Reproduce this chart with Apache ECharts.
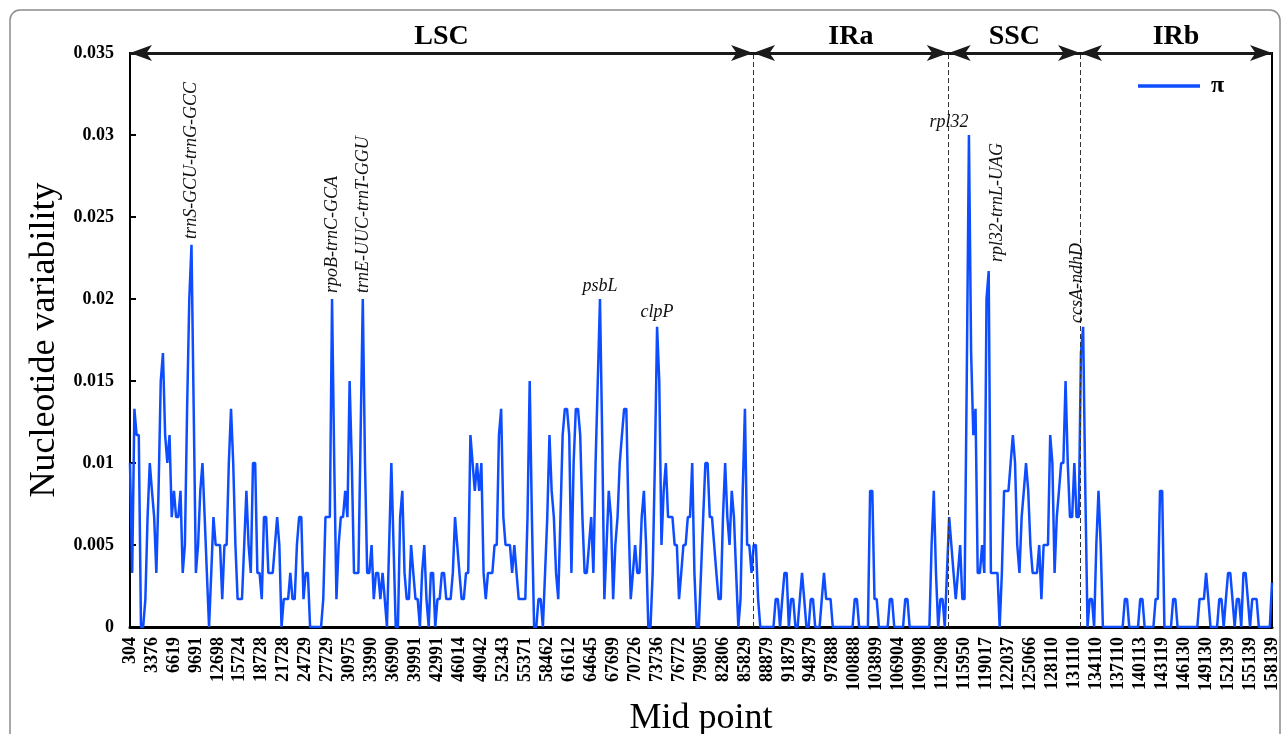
<!doctype html>
<html>
<head>
<meta charset="utf-8">
<title>Nucleotide variability</title>
<script src="https://cdn.jsdelivr.net/npm/echarts@6/dist/echarts.min.js"></script>
<style>
  html, body { margin: 0; padding: 0; background: #fff; }
  #container { width: 1287px; height: 734px; }
</style>
</head>
<body>
<div id="container"></div>
<script>
// mid point labels, one every 10 windows
var midPoints = [304, 3376, 6619, 9691, 12698, 15724, 18728, 21728, 24729, 27729,
  30975, 33990, 36990, 39991, 42991, 46014, 49042, 52343, 55371, 58462,
  61612, 64645, 67699, 70726, 73736, 76772, 79805, 82806, 85829, 88879,
  91879, 94879, 97888, 100888, 103899, 106904, 109908, 112908, 115950, 119017,
  122037, 125066, 128110, 131110, 134110, 137110, 140113, 143119, 146130, 149130,
  152139, 155139, 158139];

// nucleotide diversity (pi) for each sliding window
var piValues = [
  0.01, 0.0033, 0.0133, 0.0117, 0.0117, 0, 0, 0.0017, 0.0067, 0.01,
  0.0083, 0.0067, 0.0033, 0.0083, 0.015, 0.0167, 0.0117, 0.01, 0.0117, 0.0067,
  0.0083, 0.0067, 0.0067, 0.0083, 0.0033, 0.005, 0.0133, 0.02, 0.0233, 0.0133,
  0.0033, 0.005, 0.0083, 0.01, 0.0067, 0.0033, 0, 0.0033, 0.0067, 0.005,
  0.005, 0.005, 0.0017, 0.005, 0.005, 0.01, 0.0133, 0.01, 0.005, 0.0017,
  0.0017, 0.0017, 0.005, 0.0083, 0.005, 0.0033, 0.01, 0.01, 0.0033, 0.0033,
  0.0017, 0.0067, 0.0067, 0.0033, 0.0033, 0.0033, 0.005, 0.0067, 0.005, 0,
  0.0017, 0.0017, 0.0017, 0.0033, 0.0017, 0.0017, 0.005, 0.0067, 0.0067, 0.0017,
  0.0033, 0.0033, 0, 0, 0, 0, 0, 0, 0.0017, 0.0067,
  0.0067, 0.0067, 0.02, 0.01, 0.0017, 0.005, 0.0067, 0.0067, 0.0083, 0.0067,
  0.015, 0.01, 0.0033, 0.0033, 0.0033, 0.0117, 0.02, 0.01, 0.0033, 0.0033,
  0.005, 0.0017, 0.0033, 0.0033, 0.0017, 0.0033, 0.0017, 0, 0.005, 0.01,
  0.005, 0, 0, 0.0067, 0.0083, 0.0033, 0.0017, 0.0017, 0.005, 0.0033,
  0.0017, 0.0017, 0, 0.0033, 0.005, 0.0017, 0, 0.0033, 0.0033, 0,
  0.0017, 0.0017, 0.0033, 0.0033, 0.0017, 0.0017, 0.0017, 0.0033, 0.0067, 0.005,
  0.0033, 0.0017, 0.0017, 0.0033, 0.0033, 0.0117, 0.01, 0.0083, 0.01, 0.0083,
  0.01, 0.0033, 0.0017, 0.0033, 0.0033, 0.0033, 0.005, 0.005, 0.0117, 0.0133,
  0.0067, 0.005, 0.005, 0.005, 0.0033, 0.005, 0.0033, 0.0017, 0.0017, 0.0017,
  0.0017, 0.0067, 0.015, 0.0067, 0, 0, 0.0017, 0.0017, 0, 0.0033,
  0.0067, 0.0117, 0.0083, 0.0067, 0.0033, 0.0017, 0.0067, 0.0117, 0.0133, 0.0133,
  0.0117, 0.0033, 0.01, 0.0133, 0.0133, 0.0117, 0.0067, 0.0033, 0.0033, 0.005,
  0.0067, 0.0033, 0.01, 0.015, 0.02, 0.0117, 0.0017, 0.005, 0.0083, 0.0067,
  0.0017, 0.005, 0.0067, 0.01, 0.0117, 0.0133, 0.0133, 0.0067, 0.0017, 0.0033,
  0.005, 0.0033, 0.0033, 0.0067, 0.0083, 0.005, 0, 0, 0.0033, 0.01,
  0.0183, 0.015, 0.005, 0.0083, 0.01, 0.0067, 0.0067, 0.0067, 0.005, 0.005,
  0.0017, 0.0033, 0.005, 0.005, 0.0067, 0.0067, 0.01, 0.0033, 0, 0,
  0.0033, 0.0067, 0.01, 0.01, 0.0067, 0.0067, 0.005, 0.0033, 0.0017, 0.0017,
  0.0067, 0.01, 0.0067, 0.005, 0.0083, 0.0067, 0.0033, 0, 0.0017, 0.0083,
  0.0133, 0.005, 0.005, 0.0033, 0.005, 0.005, 0.0017, 0, 0, 0,
  0, 0, 0, 0, 0.0017, 0.0017, 0, 0.0017, 0.0033, 0.0033,
  0, 0.0017, 0.0017, 0, 0, 0.0017, 0.0033, 0.0017, 0, 0,
  0.0017, 0.0017, 0, 0, 0, 0.0017, 0.0033, 0.0017, 0.0017, 0.0017,
  0, 0, 0, 0, 0, 0, 0, 0, 0, 0,
  0.0017, 0.0017, 0, 0, 0, 0, 0, 0.0083, 0.0083, 0.0017,
  0.0017, 0, 0, 0, 0, 0, 0.0017, 0.0017, 0, 0,
  0, 0, 0, 0.0017, 0.0017, 0, 0, 0, 0, 0,
  0, 0, 0, 0, 0, 0.005, 0.0083, 0.0033, 0, 0.0017,
  0.0017, 0, 0.0033, 0.0067, 0.005, 0.0033, 0.0017, 0.0033, 0.005, 0.0017,
  0.0017, 0.015, 0.03, 0.0167, 0.0117, 0.0133, 0.0033, 0.0033, 0.005, 0.0033,
  0.02, 0.0217, 0.0033, 0.0033, 0.0033, 0.0033, 0, 0.0033, 0.0083, 0.0083,
  0.0083, 0.01, 0.0117, 0.01, 0.005, 0.0033, 0.0067, 0.0083, 0.01, 0.0083,
  0.005, 0.0033, 0.0033, 0.0033, 0.005, 0.0017, 0.005, 0.005, 0.005, 0.0117,
  0.01, 0.0033, 0.0067, 0.0083, 0.01, 0.01, 0.015, 0.01, 0.0067, 0.0067,
  0.01, 0.0067, 0.0067, 0.0167, 0.0183, 0.0083, 0, 0.0017, 0.0017, 0,
  0.005, 0.0083, 0.005, 0, 0, 0, 0, 0, 0, 0,
  0, 0, 0, 0.0017, 0.0017, 0, 0, 0, 0, 0,
  0.0017, 0.0017, 0, 0, 0, 0, 0, 0.0017, 0.0017, 0.0083,
  0.0083, 0, 0, 0, 0, 0.0017, 0.0017, 0, 0, 0,
  0, 0, 0, 0, 0, 0, 0, 0.0017, 0.0017, 0.0017,
  0.0033, 0.0017, 0, 0, 0, 0, 0.0017, 0.0017, 0, 0.0017,
  0.0033, 0.0033, 0.0017, 0, 0.0017, 0.0017, 0, 0.0033, 0.0033, 0.0017,
  0, 0.0017, 0.0017, 0.0017, 0, 0, 0, 0, 0, 0,
  0.0027
];

// region borders, in window index
var regionNames = ['LSC', 'IRa', 'SSC', 'IRb'];
var regionEdges = [0, 283.7, 372.8, 432.6, 520];

// labelled peaks
var peakNames = ['trnS-GCU-trnG-GCC', 'rpoB-trnC-GCA', 'trnE-UUC-trnT-GGU', 'psbL', 'clpP', 'rpl32', 'rpl32-trnL-UAG', 'ccsA-ndhD'];
var peakIndex = [28, 92, 106, 214, 240, 382, 391, 434];

var serif = '"Liberation Serif", "Times New Roman", serif';
var lineData = piValues.map(function(v, i) { return [i, v]; });

var arrowLines = [];
for (var r = 0; r < regionNames.length; r++) {
  arrowLines.push([
    { name: regionNames[r], coord: [regionEdges[r], 0.035] },
    { coord: [regionEdges[r + 1], 0.035] }
  ]);
}
var dividers = regionEdges.slice(1, regionEdges.length - 1).map(function(x) {
  return { xAxis: x };
});

var myChart = echarts.init(document.getElementById('container'));
var option = {
  animation: false,
  grid: {
    left: 130, right: 15, top: 53, bottom: 107,
    containLabel: false,
    outerBoundsMode: 'none',
    show: true, borderColor: '#000', borderWidth: 2
  },
  legend: {
    data: [{ name: 'π', icon: 'rect' }],
    left: 1138, top: 74, padding: 0,
    itemWidth: 62, itemHeight: 3.5,
    itemStyle: { color: '#0d4dff' },
    textStyle: { fontFamily: serif, fontWeight: 'bold', fontSize: 24, color: '#000', padding: [0, 0, 0, 6] }
  },
  xAxis: {
    type: 'value',
    min: 0, max: 520, interval: 10,
    name: 'Mid point',
    nameLocation: 'middle',
    nameGap: 74,
    nameTextStyle: { fontFamily: serif, fontSize: 36, color: '#000' },
    axisLine: { lineStyle: { color: '#000', width: 3 } },
    axisTick: { show: false },
    splitLine: { show: false },
    axisLabel: {
      rotate: 90, margin: 10,
      overflow: 'none',
      hideOverlap: false,
      showMinLabel: true,
      showMaxLabel: true,
      fontFamily: serif, fontWeight: 'bold', fontSize: 18, color: '#000',
      formatter: function(v) { return String(midPoints[Math.round(v / 10)]); }
    }
  },
  yAxis: {
    type: 'value',
    min: 0, max: 0.035, interval: 0.005,
    name: 'Nucleotide variability',
    nameLocation: 'middle',
    nameGap: 66,
    nameTextStyle: { fontFamily: serif, fontSize: 36, color: '#000' },
    axisLine: { show: true, lineStyle: { color: '#000', width: 2 } },
    axisTick: { show: true, inside: true, length: 6, lineStyle: { color: '#000', width: 2 } },
    splitLine: { show: false },
    axisLabel: {
      margin: 16,
      fontFamily: serif, fontWeight: 'bold', fontSize: 18, color: '#000',
      formatter: function(v) { return String(+v.toFixed(3)); }
    }
  },
  series: [{
    name: 'π',
    type: 'line',
    data: lineData,
    symbol: 'none',
    z: 3,
    lineStyle: { color: '#0d4dff', width: 2.5 },
    itemStyle: { color: '#0d4dff' },
    markLine: {
      silent: true,
      symbol: 'none',
      label: { show: false },
      lineStyle: { color: '#333', width: 1, type: [5, 3] },
      data: dividers
    }
  }, {
    name: 'regions',
    type: 'line',
    data: [],
    markLine: {
      silent: true,
      symbol: ['arrow', 'arrow'],
      symbolSize: [12, 22],
      lineStyle: { color: '#1a1a1a', width: 3, type: 'solid' },
      label: {
        show: true,
        position: 'insideMiddleTop',
        distance: 2,
        formatter: '{b}',
        fontFamily: serif, fontWeight: 'bold', fontSize: 28, color: '#000'
      },
      data: arrowLines
    }
  }]
};
myChart.setOption(option);

// peak labels, placed from the data through the chart's scales
var labelPlace = {
  'trnS-GCU-trnG-GCC': [0, -6, true],
  'rpoB-trnC-GCA': [0, -6, true],
  'trnE-UUC-trnT-GGU': [0, -6, true],
  'psbL': [0, -4, false],
  'clpP': [0, -6, false],
  'rpl32': [-20, -4, false],
  'rpl32-trnL-UAG': [9, -9, true],
  'ccsA-ndhD': [-6, -4, true]
};
var graphics = [{
  type: 'rect',
  shape: { x: 10, y: 10, width: 1270, height: 760, r: 10 },
  style: { fill: 'none', stroke: '#8c8c8c', lineWidth: 1.5 },
  silent: true
}];
peakNames.forEach(function(name, k) {
  var idx = peakIndex[k];
  var p = myChart.convertToPixel({ gridIndex: 0 }, [idx, piValues[idx]]);
  var pl = labelPlace[name];
  graphics.push({
    type: 'text',
    x: p[0] + pl[0],
    y: p[1] + pl[1],
    rotation: pl[2] ? Math.PI / 2 : 0,
    z: 10,
    silent: true,
    style: {
      text: name,
      font: 'italic 18px ' + serif,
      fill: '#111',
      align: pl[2] ? 'left' : 'center',
      textAlign: pl[2] ? 'left' : 'center',
      verticalAlign: pl[2] ? 'middle' : 'bottom',
      textVerticalAlign: pl[2] ? 'middle' : 'bottom'
    }
  });
});
myChart.setOption({ graphic: graphics });
</script>
</body>
</html>
